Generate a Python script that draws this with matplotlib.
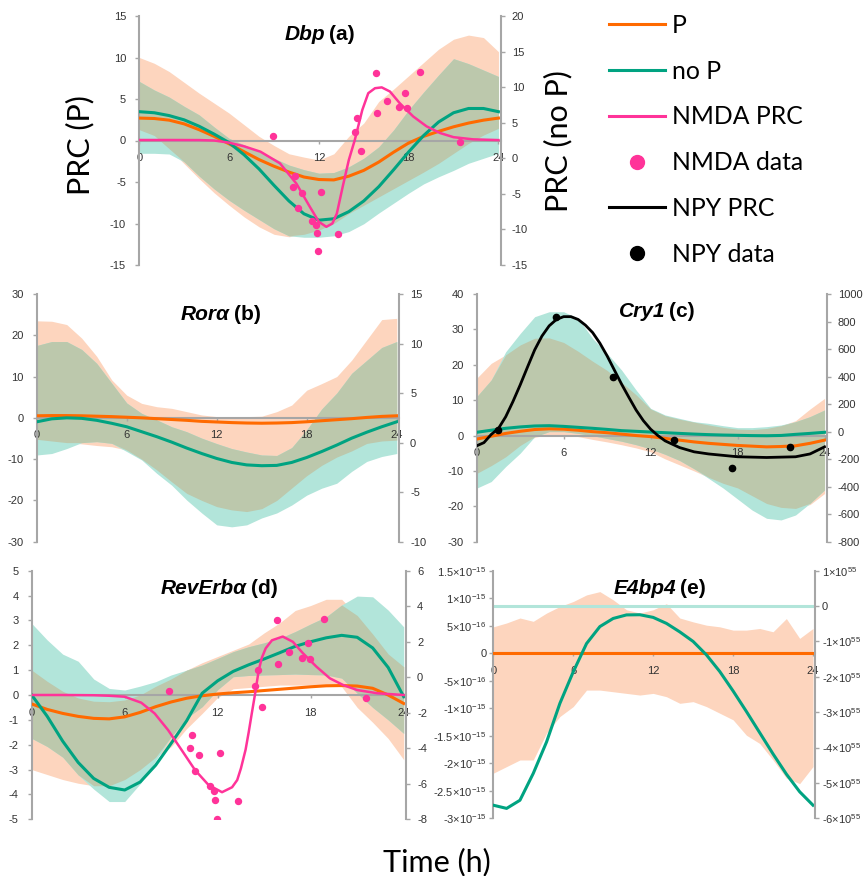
import numpy as np
import matplotlib.pyplot as plt
from matplotlib.lines import Line2D

plt.rcParams['font.family'] = ['Liberation Sans', 'DejaVu Sans']
plt.rcParams['axes.unicode_minus'] = False
plt.rcParams['mathtext.fontset'] = 'custom'
plt.rcParams['mathtext.rm'] = 'Liberation Sans'
plt.rcParams['mathtext.it'] = 'Liberation Sans:italic'
plt.rcParams['mathtext.bf'] = 'Liberation Sans:bold'

ORANGE = '#FF6A00'
GREEN = '#00A381'
PINK = '#FF3399'
PEACH = '#FDD5BE'
TEAL = '#B2E5DA'
OLIVE = '#BCC8AC'
GRAY = '#A6A6A6'
TXT = '#333333'

hours = list(range(25))
xticks = [0, 6, 12, 18, 24]

# ---- Dbp (a): P on left axis, no P on right axis
dbp_p = [2.7, 2.65, 2.45, 2.0, 1.3, 0.5, -0.4, -1.35, -2.3, -3.1, -3.8, -4.4, -4.7, -4.75,
         -4.3, -3.6, -2.6, -1.4, -0.3, 0.5, 1.1, 1.65, 2.1, 2.45, 2.7]
dbp_nop = [6.55, 6.4, 6.0, 5.4, 4.5, 3.4, 2.2, 0.5, -1.5, -3.8, -6.0, -7.8, -8.7, -8.5,
           -7.5, -6.0, -4.0, -1.6, 0.9, 3.2, 5.1, 6.4, 7.0, 7.0, 6.55]
dbp_p_lo = [1.3, 0.6, -1.0, -2.8, -4.6, -6.3, -7.8, -9.2, -10.4, -11.3, -11.6, -11.3, -10.8,
            -10.0, -8.8, -7.8, -6.8, -5.8, -4.8, -3.8, -2.75, -1.55, -0.35, 0.66, 1.47]
dbp_p_hi = [10.0, 9.3, 8.3, 7.0, 5.7, 4.5, 3.3, 1.9, 0.5, -0.6, -1.6, -2.0, -2.35, -1.6,
            0.5, 2.1, 4.7, 6.2, 7.8, 9.4, 11.0, 12.2, 12.7, 12.4, 10.7]
dbp_nop_lo = [0.7, 0.7, 0.6, -0.5, -2.5, -4.3, -5.9, -7.3, -8.6, -9.9, -10.9, -11.1, -11.1,
              -10.9, -10.3, -9.2, -7.7, -6.3, -4.9, -3.6, -2.6, -1.7, -0.7, 0.0, 0.7]
dbp_nop_hi = [10.8, 9.6, 8.6, 7.3, 6.1, 4.4, 2.8, 1.9, 0.9, 0.0, -0.95, -1.6, -2.1, -2.0,
              -1.2, 0.0, 1.6, 4.0, 6.8, 9.3, 11.7, 14.0, 13.3, 12.4, 11.5]
dbp_nmda_t = [0, 2, 4, 5, 6, 7, 8.1, 9.4, 10.5, 11.4, 12.0, 12.5, 12.9, 13.2, 13.6, 14.0,
              14.4, 14.9, 15.3, 15.75, 16.2, 16.75, 17.4, 18.3, 19.2, 20.1, 21.0, 22.3, 24]
dbp_nmda = [0.06, 0.06, 0.05, 0.0, -0.26, -0.7, -1.35, -2.75, -5.2, -8.0, -9.8, -10.4, -10.0,
            -8.8, -5.5, -2.35, 0.06, 3.67, 5.7, 6.3, 6.4, 5.9, 4.5, 2.9, 1.7, 0.9, 0.4, 0.14, 0.05]
dbp_data_t = [8.91, 15.79, 18.75, 14.57, 14.39, 14.83, 15.86, 16.57, 17.75, 17.37, 17.86,
              21.43, 10.4, 10.24, 10.85, 10.62, 12.14, 11.51, 11.8, 11.85, 11.92, 13.3]
dbp_data = [0.58, 8.09, 8.3, 2.75, 1.06, -1.22, 3.35, 4.72, 5.68, 4.08, 3.88, -0.22, -4.24,
            -5.56, -6.37, -8.17, -6.25, -9.69, -10.24, -11.18, -13.27, -11.3]

# ---- Rora (b)
rora_p = [0.5, 0.55, 0.55, 0.5, 0.4, 0.3, 0.15, 0.0, -0.2, -0.4, -0.6, -0.85, -1.0, -1.15,
          -1.25, -1.3, -1.25, -1.15, -0.95, -0.7, -0.45, -0.2, 0.1, 0.35, 0.5]
rora_nop = [2.1, 2.4, 2.5, 2.45, 2.25, 1.95, 1.6, 1.1, 0.6, 0.05, -0.55, -1.1, -1.6, -2.0,
            -2.25, -2.33, -2.3, -2.0, -1.5, -0.9, -0.25, 0.45, 1.05, 1.6, 2.1]
rora_p_lo = [-5.2, -5.6, -6.0, -6.3, -6.7, -7.0, -7.8, -10.0, -12.6, -15.5, -18.3, -20.0,
             -21.5, -22.3, -22.7, -22.0, -20.0, -17.0, -14.0, -11.5, -9.5, -8.0, -6.2, -5.6, -5.4]
rora_p_hi = [23.5, 23.4, 22.6, 19.3, 14.9, 9.2, 5.5, 3.5, 2.7, 2.3, 1.5, 0.7, 0.3, 0.3, 0.3,
             0.4, 1.5, 3.1, 6.7, 8.3, 10.0, 14.0, 18.9, 23.8, 24.1]
rora_nop_lo = [-1.25, -1.1, -0.6, 0.0, 0.1, -0.07, -0.9, -1.75, -3.1, -4.3, -5.8, -7.1, -8.3,
               -8.5, -8.3, -7.6, -7.1, -6.3, -5.3, -4.6, -4.1, -2.9, -1.9, -1.4, -1.1]
rora_nop_hi = [9.8, 10.2, 10.2, 9.4, 8.0, 6.0, 4.0, 2.95, 2.3, 1.6, 1.1, 0.45, -0.1, -0.6,
               -0.95, -1.25, -1.3, -0.5, 1.3, 3.4, 5.0, 7.0, 8.3, 9.6, 10.2]

# ---- Cry1 (c)
cry1_p = [-1.0, -0.2, 0.6, 1.2, 1.7, 1.9, 1.8, 1.5, 1.1, 0.8, 0.4, 0.0, -0.3, -0.8, -1.3,
          -1.8, -2.2, -2.5, -2.8, -3.0, -3.2, -3.1, -2.9, -2.2, -1.3]
cry1_nop = [-5, 10, 24, 34, 41, 43, 38, 31, 24, 16, 7, 2, -3, -8, -13, -18, -22, -25, -27,
            -29, -30, -28, -20, -13, -5]
cry1_p_lo = [-10.7, -8.5, -6.0, -2.8, -0.5, 0.3, 0.3, -0.3, -1.1, -1.8, -2.6, -3.5, -4.6,
             -6.6, -8.3, -10.0, -11.8, -13.5, -14.8, -17.0, -19.2, -20.3, -20.6, -19.5, -16.4]
cry1_p_hi = [16.2, 20.4, 22.8, 25.6, 27.5, 27.6, 26.3, 23.8, 21.0, 18.4, 15.0, 11.5, 7.5,
             5.6, 4.6, 3.8, 3.0, 2.3, 1.8, 1.7, 2.0, 2.8, 4.2, 7.5, 10.5]
cry1_nop_lo = [-411, -363, -254, -157, -37, 0, 0, -13, -30, -50, -70, -95, -125, -165, -210,
               -270, -340, -410, -490, -570, -630, -642, -606, -521, -424]
cry1_nop_hi = [254, 375, 580, 713, 835, 871, 871, 823, 677, 568, 447, 302, 169, 121, 96, 72,
               60, 43, 29, 29, 36, 48, 72, 109, 157]
cry1_npy_t = [0, 0.5, 1, 1.5, 2, 2.5, 3, 3.5, 4, 4.5, 5, 5.5, 6, 6.5, 7, 7.5, 8, 8.5, 9, 9.5,
              10, 10.5, 11, 11.5, 12, 12.5, 13, 14, 15, 16, 18, 20, 22, 23, 24]
cry1_npy = [-2.9, -2.0, 0.3, 2.0, 5.3, 9.6, 14.3, 19.3, 24.2, 28.1, 31.0, 32.8, 33.6, 33.6,
            32.8, 31.2, 29.1, 26.1, 22.5, 18.5, 14.5, 10.8, 7.2, 4.2, 1.8, 0.0, -1.5, -3.4,
            -4.6, -5.2, -6.0, -6.2, -6.0, -5.2, -3.2]
cry1_npy_data_t = [1.45, 5.45, 9.43, 13.6, 17.6, 21.65]
cry1_npy_data = [1.55, 33.6, 16.6, -1.3, -9.3, -3.3]

# ---- RevErba (d)
reverba_p = [-0.36, -0.58, -0.74, -0.86, -0.94, -0.96, -0.88, -0.7, -0.47, -0.28, -0.13,
             -0.03, 0.04, 0.09, 0.13, 0.18, 0.23, 0.28, 0.33, 0.37, 0.38, 0.36, 0.27, 0.0, -0.34]
reverba_nop = [-1.0, -2.2, -3.6, -4.8, -5.7, -6.2, -6.35, -5.9, -4.95, -3.72, -2.45, -0.9,
               -0.2, 0.33, 0.7, 1.03, 1.38, 1.74, 2.0, 2.22, 2.36, 2.25, 1.65, 0.55, -1.09]
reverba_p_lo = [-3.0, -3.2, -3.4, -3.55, -3.65, -3.65, -3.4, -3.0, -2.5, -2.08, -1.35, -0.74,
                -0.1, 0.25, 0.3, 0.35, 0.4, 0.4, 0.4, 0.4, 0.33, -0.5, -1.1, -1.75, -2.6]
reverba_p_hi = [1.0, 0.55, 0.15, -0.12, -0.25, -0.27, -0.2, 0.0, 0.35, 0.65, 1.0, 1.3, 1.55,
                1.8, 2.05, 2.5, 2.9, 3.4, 3.6, 3.85, 3.85, 3.2, 2.45, 1.65, 1.14]
reverba_nop_lo = [-3.44, -3.9, -4.5, -5.5, -6.3, -7.0, -7.0, -6.0, -4.7, -3.35, -2.3, -1.66,
                  -0.7, 0.03, 0.1, 0.13, 0.15, 0.18, 0.15, 0.13, -0.05, -0.9, -1.7, -2.4, -3.16]
reverba_nop_hi = [3.03, 2.1, 1.3, 0.9, -0.1, -0.63, -0.72, -0.5, -0.25, 0.13, 0.4, 0.69, 1.06,
                  1.44, 1.72, 1.94, 2.19, 2.57, 3.0, 3.4, 4.07, 4.57, 4.53, 3.78, 2.84]
reverba_nmda_t = [0, 2, 4, 5.0, 6.0, 7.07, 7.93, 8.8, 9.67, 10.54, 11.41, 12.28, 12.93, 13.26,
                  13.5, 13.8, 14.0, 14.2, 14.4, 14.65, 14.85, 15.1, 15.5, 16.2, 16.85, 17.5,
                  18.37, 19.24, 20.1, 21.0, 22.3, 24]
reverba_nmda = [0, 0, -0.01, -0.03, -0.07, -0.31, -0.74, -1.41, -2.21, -3.02, -3.62, -3.91,
                -3.71, -3.42, -2.95, -2.2, -1.5, -0.74, 0.0, 1.0, 1.5, 1.88, 2.2, 2.35, 2.14,
                1.68, 1.14, 0.67, 0.4, 0.2, 0.07, 0.0]
reverba_data_t = [8.85, 15.83, 18.85, 14.6, 14.4, 14.85, 15.9, 16.63, 17.46, 17.8, 17.93,
                  21.57, 10.35, 10.24, 10.8, 10.54, 12.15, 11.52, 11.78, 11.83, 11.96, 13.28]
reverba_data = [0.17, 3.02, 3.06, 1.0, 0.38, -0.47, 1.23, 1.74, 1.5, 2.1, 1.43, -0.11, -1.61,
                -2.12, -2.4, -3.07, -2.35, -3.66, -3.85, -4.22, -5.0, -4.25]

# ---- E4bp4 (e): P in units of 1e-15, no P in units of 1e55
e4bp4_p = [0.0] * 25
e4bp4_nop = [-5.63, -5.72, -5.49, -4.73, -3.84, -2.75, -1.86, -1.06, -0.58, -0.35, -0.25,
             -0.245, -0.32, -0.49, -0.73, -1.0, -1.38, -1.85, -2.4, -2.98, -3.58, -4.18,
             -4.75, -5.25, -5.63]
e4bp4_p_lo = [-2.18, -2.06, -1.94, -1.94, -1.45, -1.15, -0.97, -0.67, -0.67, -0.7, -0.73,
              -0.76, -0.73, -0.79, -0.91, -0.88, -0.97, -1.09, -1.21, -1.49, -1.64, -1.94,
              -2.27, -2.37, -2.06]
e4bp4_p_hi = [0.48, 0.55, 0.64, 0.58, 0.73, 0.85, 0.94, 1.06, 1.12, 0.97, 0.79, 0.73, 0.79,
              0.9, 0.64, 0.57, 0.51, 0.48, 0.42, 0.42, 0.45, 0.39, 0.63, 0.27, 0.45]
e4bp4_nop_lo = [0.0] * 25
e4bp4_nop_hi = [0.0] * 25

W, H = 864, 876
fig = plt.figure(figsize=(W / 100, H / 100), dpi=100)


def panel(left, right, top, bottom, ylim_l, yticks_l, ylim_r, yticks_r, pad_l=6.5, pad_r=5):
    ax = fig.add_axes([left / W, 1 - bottom / H, (right - left) / W, (bottom - top) / H])
    ax2 = ax.twinx()
    ax.set_xlim(0, 24.15)
    ax.set_ylim(*ylim_l)
    ax2.set_ylim(*ylim_r)
    ax.set_xticks(xticks)
    ax.set_yticks(yticks_l)
    ax2.set_yticks(yticks_r)
    for s in ('top', 'right'):
        ax.spines[s].set_visible(False)
    for s in ('top', 'left', 'bottom'):
        ax2.spines[s].set_visible(False)
    ax.spines['bottom'].set_position(('data', 0))
    for sp in (ax.spines['left'], ax.spines['bottom'], ax2.spines['right']):
        sp.set_color(GRAY)
        sp.set_linewidth(1.5)
    ax.tick_params(axis='y', length=3, width=1, color=GRAY, labelsize=8, labelcolor=TXT, pad=pad_l)
    ax2.tick_params(axis='y', length=3, width=1, color=GRAY, labelsize=8, labelcolor=TXT, pad=pad_r)
    ax.tick_params(axis='x', length=2.5, width=1, color=GRAY, labelsize=8, labelcolor=TXT, pad=6.5)
    return ax, ax2


def bands(ax, ax2, p_lo, p_hi, n_lo, n_hi):
    ax.fill_between(hours, p_lo, p_hi, color=PEACH, lw=0, zorder=1)
    ax.fill_between(hours, n_lo, n_hi, color=TEAL, lw=0, zorder=1, transform=ax2.transData)
    # overlap of both ranges, expressed in left-axis units
    back = ax.transData.inverted()
    lo_n = back.transform(ax2.transData.transform(np.column_stack([hours, n_lo])))[:, 1]
    hi_n = back.transform(ax2.transData.transform(np.column_stack([hours, n_hi])))[:, 1]
    lo = np.maximum(p_lo, lo_n)
    hi = np.minimum(p_hi, hi_n)
    ax.fill_between(hours, lo, hi, where=hi > lo, interpolate=True, color=OLIVE, lw=0, zorder=1.1)


def curves(ax, ax2, p, nop):
    ax.plot(hours, p, color=ORANGE, lw=2.2, zorder=3)
    ax.plot(hours, nop, color=GREEN, lw=2.2, zorder=3.1, transform=ax2.transData)


def title(gene, tag, x_end, base_y):
    fig.text(x_end / W, 1 - base_y / H, gene, ha='right', va='baseline', fontsize=15,
             fontweight='bold', fontstyle='italic')
    fig.text((x_end + 4) / W, 1 - base_y / H, tag, ha='left', va='baseline', fontsize=15,
             fontweight='bold')


def pow_label(v):
    if v == 0:
        return '0'
    exp = int(np.floor(np.log10(abs(v)) + 1e-9))
    mant = abs(v) / 10 ** exp
    sign = '-' if v < 0 else ''
    return sign + rf'$\mathregular{{{mant:g}{{\times}}10^{{{exp}}}}}$'


# (a) Dbp
ax, ax2 = panel(139.3, 500.7, 16, 265, (-15, 15), range(-15, 16, 5), (-15, 20), range(-15, 21, 5))
bands(ax, ax2, dbp_p_lo, dbp_p_hi, dbp_nop_lo, dbp_nop_hi)
curves(ax, ax2, dbp_p, dbp_nop)
ax.plot(dbp_nmda_t, dbp_nmda, color=PINK, lw=1.8, zorder=3.3)
ax.plot(dbp_data_t, dbp_data, ls='none', marker='o', ms=4.3, color=PINK, zorder=3.5)
title('Dbp', '(a)', 325, 39.5)

# (b) Rora
ax, ax2 = panel(36.7, 399, 294, 541.7, (-30, 30), range(-30, 31, 10), (-10, 15), range(-10, 16, 5))
bands(ax, ax2, rora_p_lo, rora_p_hi, rora_nop_lo, rora_nop_hi)
curves(ax, ax2, rora_p, rora_nop)
title('Ror\u03b1', '(b)', 230, 320)

# (c) Cry1
ax, ax2 = panel(476.7, 826.7, 294, 541.7, (-30, 40), range(-30, 41, 10), (-800, 1000),
                range(-800, 1001, 200))
bands(ax, ax2, cry1_p_lo, cry1_p_hi, cry1_nop_lo, cry1_nop_hi)
curves(ax, ax2, cry1_p, cry1_nop)
ax.plot(cry1_npy_t, cry1_npy, color='black', lw=2.0, zorder=3.3)
ax.plot(cry1_npy_data_t, cry1_npy_data, ls='none', marker='o', ms=4.5, color='black', zorder=3.5)
title('Cry1', '(c)', 665, 317)

# (d) RevErba
ax, ax2 = panel(31.7, 406, 570.7, 819.3, (-5, 5), range(-5, 6), (-8, 6), range(-8, 7, 2))
bands(ax, ax2, reverba_p_lo, reverba_p_hi, reverba_nop_lo, reverba_nop_hi)
curves(ax, ax2, reverba_p, reverba_nop)
ax.plot(reverba_nmda_t, reverba_nmda, color=PINK, lw=1.8, zorder=3.3)
ax.plot(reverba_data_t, reverba_data, ls='none', marker='o', ms=4.3, color=PINK, zorder=3.5)
title('RevErb\u03b1', '(d)', 247, 594)

# (e) E4bp4
e_left = [v * 1e-15 for v in np.arange(-3, 1.51, 0.5)]
e_right = [v * 1e55 for v in range(-6, 2)]
ax, ax2 = panel(493.3, 815, 570.7, 818.3, (-3e-15, 1.5e-15), e_left, (-6e55, 1e55), e_right,
                pad_l=2, pad_r=2)
ax.set_yticks(e_left, [pow_label(v) for v in e_left])
ax2.set_yticks(e_right, [pow_label(v) for v in e_right])
p_lo = [v * 1e-15 for v in e4bp4_p_lo]
p_hi = [v * 1e-15 for v in e4bp4_p_hi]
ax.fill_between(hours, p_lo, p_hi, color=PEACH, lw=0, zorder=1)
ax.plot(hours, e4bp4_nop_hi, color=TEAL, lw=2.2, zorder=1.2, transform=ax2.transData)
curves(ax, ax2, [v * 1e-15 for v in e4bp4_p], [v * 1e55 for v in e4bp4_nop])
title('E4bp4', '(e)', 676, 594)

# shared axis titles
big = dict(family='Lato', fontsize=22, color='black')
fig.text(80 / W, 1 - 145 / H, 'PRC (P)', rotation=90, ha='center', va='center', **big)
fig.text(558 / W, 1 - 141 / H, 'PRC (no P)', rotation=90, ha='center', va='center', **big)
fig.text(437 / W, 1 - 862 / H, 'Time (h)', ha='center', va='center', **big)

handles = [
    Line2D([], [], color=ORANGE, lw=2.2),
    Line2D([], [], color=GREEN, lw=2.2),
    Line2D([], [], color=PINK, lw=2.2),
    Line2D([], [], ls='none', marker='o', ms=10, color=PINK),
    Line2D([], [], color='black', lw=2.2),
    Line2D([], [], ls='none', marker='o', ms=10, color='black'),
]
labels = ['P', 'no P', 'NMDA PRC', 'NMDA data', 'NPY PRC', 'NPY data']
fig.legend(handles, labels, loc='upper left', bbox_to_anchor=(609 / W, 1 - 14 / H),
           frameon=False, prop={'family': 'Lato', 'size': 17.8}, handlelength=2.27,
           handletextpad=0.28, labelspacing=0.92, borderpad=0, borderaxespad=0)

fig.savefig('out.png', dpi=100)
